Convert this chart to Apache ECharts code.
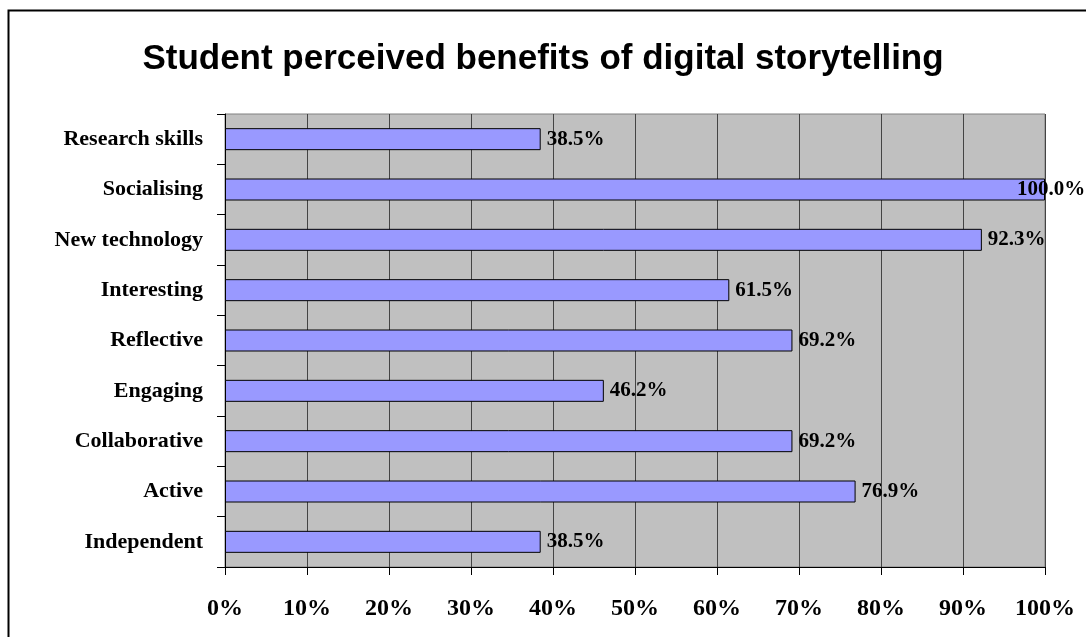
<!DOCTYPE html>
<html>
<head>
<meta charset="utf-8">
<style>
  html, body { margin: 0; padding: 0; background: #fff; }
  #chart { width: 1086px; height: 637px; }
</style>
<script src="https://cdn.jsdelivr.net/npm/echarts@6/dist/echarts.min.js"></script>
</head>
<body>
<div id="chart"></div>
<script>
// Benefits listed top to bottom
const categories = [
  'Research skills', 'Socialising', 'New technology', 'Interesting',
  'Reflective', 'Engaging', 'Collaborative', 'Active', 'Independent'
];
// Percentage of students naming each benefit
const percentages = [38.5, 100.0, 92.3, 61.5, 69.2, 46.2, 69.2, 76.9, 38.5];
const xTicks = [0, 10, 20, 30, 40, 50, 60, 70, 80, 90, 100];

const serif = '"Liberation Serif", "Times New Roman", serif';
const sans = '"Liberation Sans", Arial, sans-serif';
const axisMax = xTicks[xTicks.length - 1];

// A full-length bar has its label pulled back over the bar end
const barData = percentages.map(v => ({
  value: v,
  label: v >= axisMax ? { offset: [-34, 0] } : {}
}));

const chart = echarts.init(document.getElementById('chart'), null, { renderer: 'canvas' });

chart.setOption({
  animation: false,
  backgroundColor: '#ffffff',
  title: {
    text: 'Student perceived benefits of digital storytelling',
    left: 'center',
    top: 37,
    textStyle: { fontFamily: sans, fontWeight: 'bold', fontSize: 35, color: '#000' }
  },
  graphic: [{
    type: 'rect',
    shape: { x: 8.5, y: 10.5, width: 1200, height: 800 },
    style: { fill: 'none', stroke: '#000', lineWidth: 2 },
    silent: true,
    z: 100
  }],
  grid: {
    left: 225, right: 41, top: 114, bottom: 70,
    show: true,
    backgroundColor: '#c0c0c0',
    borderColor: '#808080',
    borderWidth: 1
  },
  xAxis: {
    type: 'value',
    min: xTicks[0],
    max: axisMax,
    interval: 10,
    axisLine: { show: true, lineStyle: { color: '#000', width: 1 } },
    axisTick: { show: true, length: 8, lineStyle: { color: '#000' } },
    splitLine: { show: true, lineStyle: { color: '#444', width: 1 } },
    axisLabel: {
      margin: 30,
      formatter: v => v + '%',
      fontFamily: serif, fontWeight: 'bold', fontSize: 24, color: '#000'
    }
  },
  yAxis: {
    type: 'category',
    data: categories,
    inverse: true,
    axisLine: { show: true, lineStyle: { color: '#000', width: 1 } },
    axisTick: { show: true, length: 8, lineStyle: { color: '#000' } },
    axisLabel: {
      margin: 22,
      fontFamily: serif, fontWeight: 'bold', fontSize: 22, color: '#000'
    }
  },
  series: [{
    type: 'bar',
    data: barData,
    barWidth: 22,
    itemStyle: { color: '#9999ff', borderColor: '#000', borderWidth: 1 },
    label: {
      show: true,
      position: 'right',
      distance: 6,
      formatter: p => p.value.toFixed(1) + '%',
      fontFamily: serif, fontWeight: 'bold', fontSize: 21, color: '#000'
    },
    z: 3
  }]
});
</script>
</body>
</html>
